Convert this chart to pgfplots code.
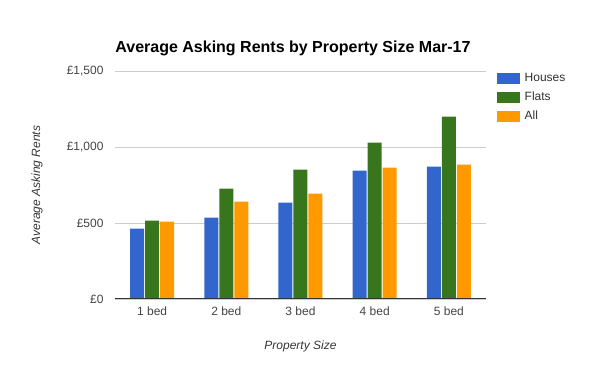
\documentclass[border=0pt]{standalone}
\usepackage{pgfplots}
\pgfplotsset{compat=1.18}
\usetikzlibrary{calc}
\usepackage{fontspec}
\setmainfont{Liberation Sans}
\definecolor{houses}{HTML}{3366CC}
\definecolor{flats}{HTML}{38761D}
\definecolor{allc}{HTML}{FF9900}
\definecolor{gridc}{HTML}{CCCCCC}
\definecolor{txt}{HTML}{444444}
\begin{document}
\begin{tikzpicture}[x=1pt,y=1pt]
\begin{axis}[
  scale only axis, width=371pt, height=228pt,
  ymin=0, ymax=1500, xmin=-0.5, xmax=4.5,
  ytick={0,500,1000,1500},
  yticklabels={{£0},{£500},{£1,000},{£1,500}},
  xtick={0,1,2,3,4},
  xticklabels={1 bed,2 bed,3 bed,4 bed,5 bed},
  ymajorgrids, grid style={gridc, line width=0.8pt},
  major tick length=0pt,
  axis line style={draw=none},
  tick label style={font=\fontsize{12}{14}\selectfont, text=txt},
  yticklabel style={xshift=-8pt},
  xticklabel style={yshift=-4pt},
  ylabel={Average Asking Rents},
  xlabel={Property Size},
  every axis y label/.style={at={(axis description cs:-0.21,0.5)}, rotate=90, anchor=center, font=\itshape\fontsize{12}{14}\selectfont, text=txt!80!black},
  every axis x label/.style={at={(axis description cs:0.5,-0.206)}, anchor=center, font=\itshape\fontsize{12}{14}\selectfont, text=txt!80!black},
  legend image code/.code={\fill[#1] (0pt,-5.5pt) rectangle (23pt,5.5pt);},
  legend style={at={(1,1)}, anchor=north west, xshift=11pt, yshift=-2pt, draw=none, fill=none, inner sep=0pt,
    font=\fontsize{12}{14}\selectfont, text=txt!70!black, row sep=8pt,
    nodes={inner xsep=4.5pt, inner ysep=0pt, text height=8pt, text depth=2pt}},
  legend cell align=left,
  clip=false,
]
\addplot[ybar, bar width=14pt, bar shift=-15pt, fill=houses, draw=none] coordinates {(0,463) (1,535) (2,634) (3,844) (4,871)};
\addplot[ybar, bar width=14pt, bar shift=0pt, fill=flats, draw=none] coordinates {(0,515) (1,726) (2,851) (3,1029) (4,1200)};
\addplot[ybar, bar width=14pt, bar shift=15pt, fill=allc, draw=none] coordinates {(0,509) (1,640) (2,693) (3,864) (4,884)};
\legend{Houses,Flats,All}
\draw[color=black!80, line width=1pt] (rel axis cs:0,0) -- (rel axis cs:1,0);
\coordinate (ll) at (rel axis cs:0,0);
\end{axis}
\node[font=\bfseries\fontsize{16}{19}\selectfont, text=black] at ($(ll)+(178,251)$) {Average Asking Rents by Property Size Mar-17};
\pgfresetboundingbox
\useasboundingbox ($(ll)+(-115,-72)$) rectangle ++(600,371);
\end{tikzpicture}
\end{document}
